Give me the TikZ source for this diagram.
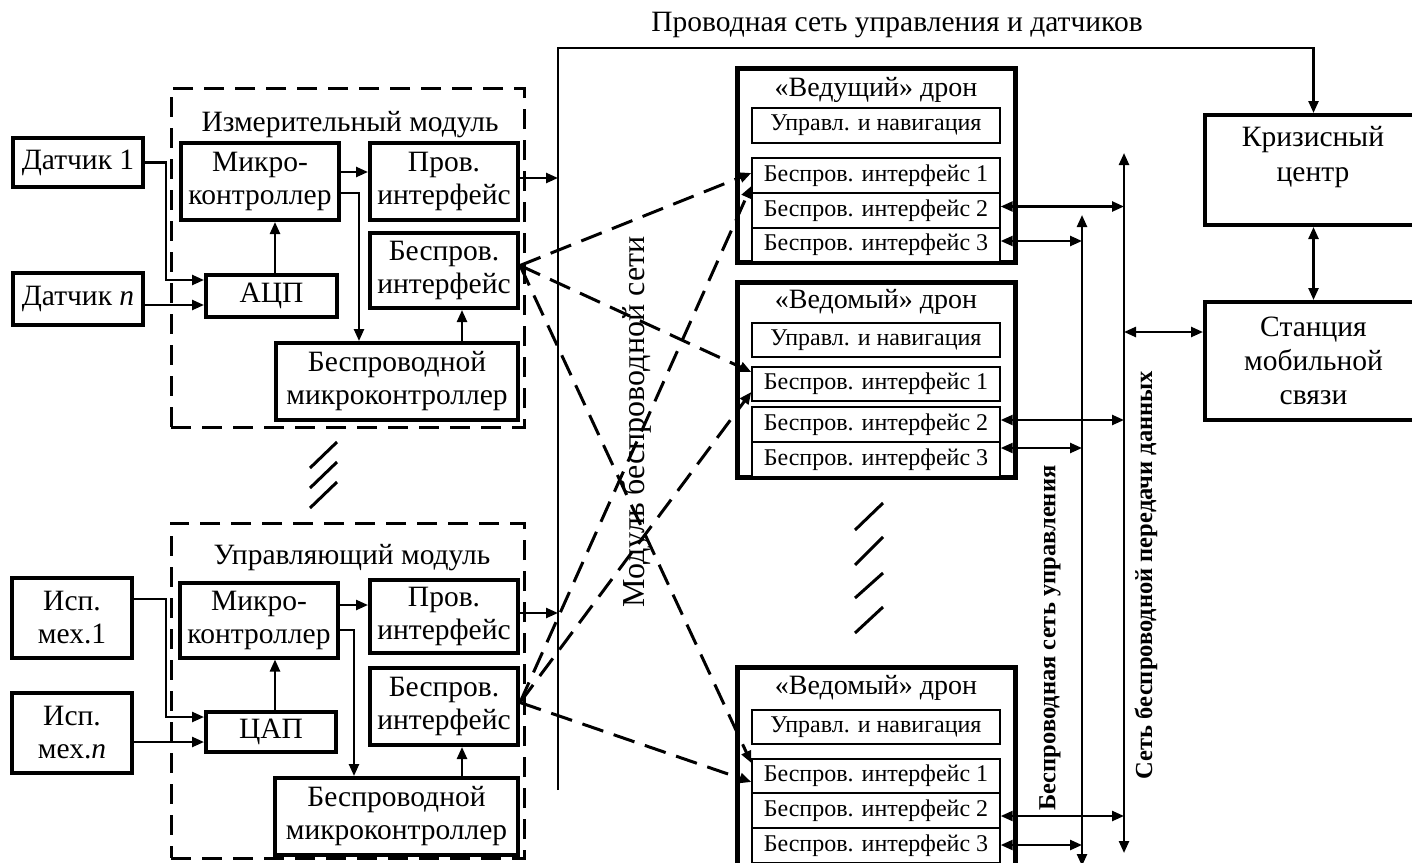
\documentclass[tikz,border=0pt]{standalone}
\usepackage{fontspec}
\setmainfont{Liberation Serif}
\usetikzlibrary{arrows.meta,calc}
\begin{document}
\begin{tikzpicture}[x=1pt,y=-1pt,
  >={Triangle[length=12pt,width=10pt]},
  every node/.style={font=\fontsize{29.5}{33}\selectfont, inner sep=0pt},
  box/.style={draw, line width=4pt, fill=white, align=center},
  ibox/.style={draw, line width=1.4pt, fill=white, minimum width=248pt, font=\fontsize{24}{28}\selectfont},
  obox/.style={draw, line width=5pt, minimum width=278pt},
  dtitle/.style={font=\fontsize{28}{32}\selectfont},
  dbox/.style={draw, line width=3pt, dash pattern=on 20pt off 11pt},
  conn/.style={line width=2.4pt},
  arr/.style={conn,->},
  arrb/.style={conn,<->},
  wl/.style={line width=3pt, dash pattern=on 22pt off 11pt, ->},
  ghost/.style={line width=3pt},
  vlab/.style={rotate=90, font=\bfseries\fontsize{24.5}{28}\selectfont}
]
\useasboundingbox (0,0) rectangle (1412,862);
\clip (0,0) rectangle (1412,862);

% ---------- module frames ----------
\node[dbox, minimum width=353pt, minimum height=339pt] (mmod) at (347.5,257.5) {};
\node[dbox, minimum width=353pt, minimum height=335pt] (cmod) at (347.5,690.5) {};
\node (mtitle) at (350,125) {Измерительный модуль};
\node (ctitle) at (352,558) {Управляющий модуль};

% ---------- measuring module ----------
\node[box, minimum width=130pt, minimum height=49pt] (d1) at (78,162.5) {Датчик 1};
\node[box, minimum width=130pt, minimum height=52pt] (dn) at (78,299) {Датчик \textit{n}};
\node[box, minimum width=158pt, minimum height=77pt] (mc1) at (260,181.5) {Микро-\\контроллер};
\node[box, minimum width=148pt, minimum height=77pt] (pr1) at (444,181.5) {Пров.\\интерфейс};
\node[box, minimum width=148pt, minimum height=75pt] (bi1) at (444,270.5) {Беспров.\\интерфейс};
\node[box, minimum width=131pt, minimum height=42pt] (adc) at (271.5,296) {АЦП};
\node[box, minimum width=242pt, minimum height=77pt] (bm1) at (397,381.5) {Беспроводной\\микроконтроллер};

\draw[arr] (d1.east) -- ++(21,0) |- ($(adc.west)+(0,-16)$);
\draw[arr] ($(dn.east)+(0,6)$) -- ($(adc.west)+(0,9)$);
\draw[arr] ($(adc.north)+(3.5,0)$) -- ($(mc1.south)+(15,0)$);
\draw[arr] ($(mc1.east)+(0,-9.5)$) -- ($(pr1.west)+(0,-9.5)$);
\draw[arr] ($(mc1.east)+(0,11.5)$) -| ($(bm1.north)+(-38,0)$);
\draw[arr] ($(bm1.north)+(65,0)$) -- ($(bi1.south)+(18,0)$);

% ---------- control module ----------
\node[box, minimum width=120pt, minimum height=80pt] (a1) at (72,618) {Исп.\\мех.1};
\node[box, minimum width=120pt, minimum height=80pt] (an) at (72,733) {Исп.\\мех.\textit{n}};
\node[box, minimum width=158pt, minimum height=75pt] (mc2) at (259,620) {Микро-\\контроллер};
\node[box, minimum width=148pt, minimum height=73pt] (pr2) at (444,616.5) {Пров.\\интерфейс};
\node[box, minimum width=148pt, minimum height=77pt] (bi2) at (444,706.5) {Беспров.\\интерфейс};
\node[box, minimum width=130pt, minimum height=40pt] (dac) at (271,732) {ЦАП};
\node[box, minimum width=243pt, minimum height=77pt] (bm2) at (396.5,816.5) {Беспроводной\\микроконтроллер};

\draw[arr] ($(a1.east)+(0,-19)$) -- ++(32,0) |- ($(dac.west)+(0,-15)$);
\draw[arr] ($(an.east)+(0,9)$) -- ($(dac.west)+(0,10)$);
\draw[arr] ($(dac.north)+(4,0)$) -- ($(mc2.south)+(16,0)$);
\draw[arr] ($(mc2.east)+(0,-15)$) -- ($(pr2.west)+(0,-11.5)$);
\draw[arr] ($(mc2.east)+(0,10)$) -| ($(bm2.north)+(-42.5,0)$);
\draw[arr] ($(bm2.north)+(65.5,0)$) -- ($(bi2.south)+(18,0)$);

% ghost marks between modules
\draw[ghost] (310,468) -- (337,442);
\draw[ghost] (310,488) -- (337,462);
\draw[ghost] (310,508) -- (337,482);

% ---------- right boxes ----------
\node[box, minimum width=217pt, minimum height=110pt] (KC) at (1313.5,170) {};
\node[align=center, font=\fontsize{29.5}{35}\selectfont] (KCt) at (1313,157.5) {Кризисный\\центр};
\node[box, minimum width=217pt, minimum height=118pt, font=\fontsize{29.5}{34}\selectfont] (ST) at (1313.5,361) {Станция\\мобильной\\связи};

% ---------- wired bus ----------
\coordinate (wbtop) at (558,48);
\coordinate (wbbot) at (558,790);
\node (wlab) at (897,25) {Проводная сеть управления и датчиков};
\draw[arr] (wbbot) -- (wbtop) -| (KC.north);
\draw[arrb] (KC.south) -- (ST.north);
\coordinate (p1) at ($(pr1.east)+(0,-3.5)$);
\draw[arr] (p1) -- (p1 -| wbtop);
\coordinate (p2) at ($(pr2.east)+(0,-3.5)$);
\draw[arr] (p2) -- (p2 -| wbtop);

% ---------- drones ----------
\node[obox, minimum height=194pt] (LD) at (876,165) {};
\node[dtitle] (LDt) at (876,90) {«Ведущий» дрон};
\node[ibox, minimum height=35pt] (Lnav) at (876,125.5) {Управл. и навигация};
\node[ibox, minimum height=35pt] (L1) at (876,175.5) {Беспров. интерфейс 1};
\node[ibox, minimum height=35pt] (L2) at (876,210.5) {Беспров. интерфейс 2};
\node[ibox, minimum height=34pt] (L3) at (876,245) {Беспров. интерфейс 3};

\node[obox, minimum height=195pt] (F1) at (876,379.5) {};
\node[dtitle] (F1t) at (876,302) {«Ведомый» дрон};
\node[ibox, minimum height=34pt] (F1nav) at (876,340) {Управл. и навигация};
\node[ibox, minimum height=34pt] (F1i1) at (876,384) {Беспров. интерфейс 1};
\node[ibox, minimum height=35pt] (F1i2) at (876,424.5) {Беспров. интерфейс 2};
\node[ibox, minimum height=35pt] (F1i3) at (876,459.5) {Беспров. интерфейс 3};

\node[obox, minimum height=199pt] (F2) at (876,766.5) {};
\node[dtitle] (F2t) at (876,688) {«Ведомый» дрон};
\node[ibox, minimum height=34pt] (F2nav) at (876,727) {Управл. и навигация};
\node[ibox, minimum height=34pt] (F2i1) at (876,776) {Беспров. интерфейс 1};
\node[ibox, minimum height=35pt] (F2i2) at (876,810.5) {Беспров. интерфейс 2};
\node[ibox, minimum height=35pt] (F2i3) at (876,845.5) {Беспров. интерфейс 3};

% ghost marks between drones
\draw[ghost] (855,530) -- (883,503);
\draw[ghost] (855,565) -- (883,537);
\draw[ghost] (855,598) -- (883,573);
\draw[ghost] (855,633) -- (883,607);

% ---------- wireless buses ----------
\coordinate (dbt) at (1124,153);
\coordinate (dbb) at (1124,853);
\coordinate (cbt) at (1082,215);
\coordinate (cbb) at (1082,866);
\draw[arrb] (dbb) -- (dbt);
\draw[arrb] (cbb) -- (cbt);

\coordinate (l2) at ($(L2.east)+(0,-4)$);
\coordinate (l3) at ($(L3.east)+(0,-4)$);
\coordinate (f12) at ($(F1i2.east)+(0,-4.5)$);
\coordinate (f13) at ($(F1i3.east)+(0,-11.5)$);
\coordinate (f22) at ($(F2i2.east)+(0,5.5)$);
\coordinate (f23) at ($(F2i3.east)+(0,-0.5)$);
\draw[arrb] (l2) -- (l2 -| dbt);
\draw[arrb] (l3) -- (l3 -| cbt);
\draw[arrb] (f12) -- (f12 -| dbt);
\draw[arrb] (f13) -- (f13 -| cbt);
\draw[arrb] (f22) -- (f22 -| dbt);
\draw[arrb] (f23) -- (f23 -| cbt);
\coordinate (s1) at ($(ST.west)+(0,-29)$);
\draw[arrb] (s1 -| dbt) -- (s1);

\node[vlab] (cnet) at (1050,638) {Беспроводная сеть управления};
\node[vlab] (dnet) at (1146,575) {Сеть беспроводной передачи данных};

% ---------- wireless links ----------
\node[rotate=90, font=\fontsize{32}{36}\selectfont] (wmod) at (636,422) {Модуль беспроводной сети};
\coordinate (w1) at ($(bi1.east)+(0,-5)$);
\coordinate (w2) at ($(bi2.east)+(0,-4)$);
\draw[wl] (w1) -- ($(L1.west)+(0,-2.5)$);
\draw[wl] (w1) -- ($(F1i1.west)+(0,-12)$);
\draw[wl] (w1) -- ($(F2i1.west)+(0,-13)$);
\draw[wl] (w2) -- ($(L1.west)+(0,10.5)$);
\draw[wl] (w2) -- ($(F1i1.west)+(0,8)$);
\draw[wl] (w2) -- ($(F2i1.west)+(0,6)$);
\end{tikzpicture}
\end{document}
